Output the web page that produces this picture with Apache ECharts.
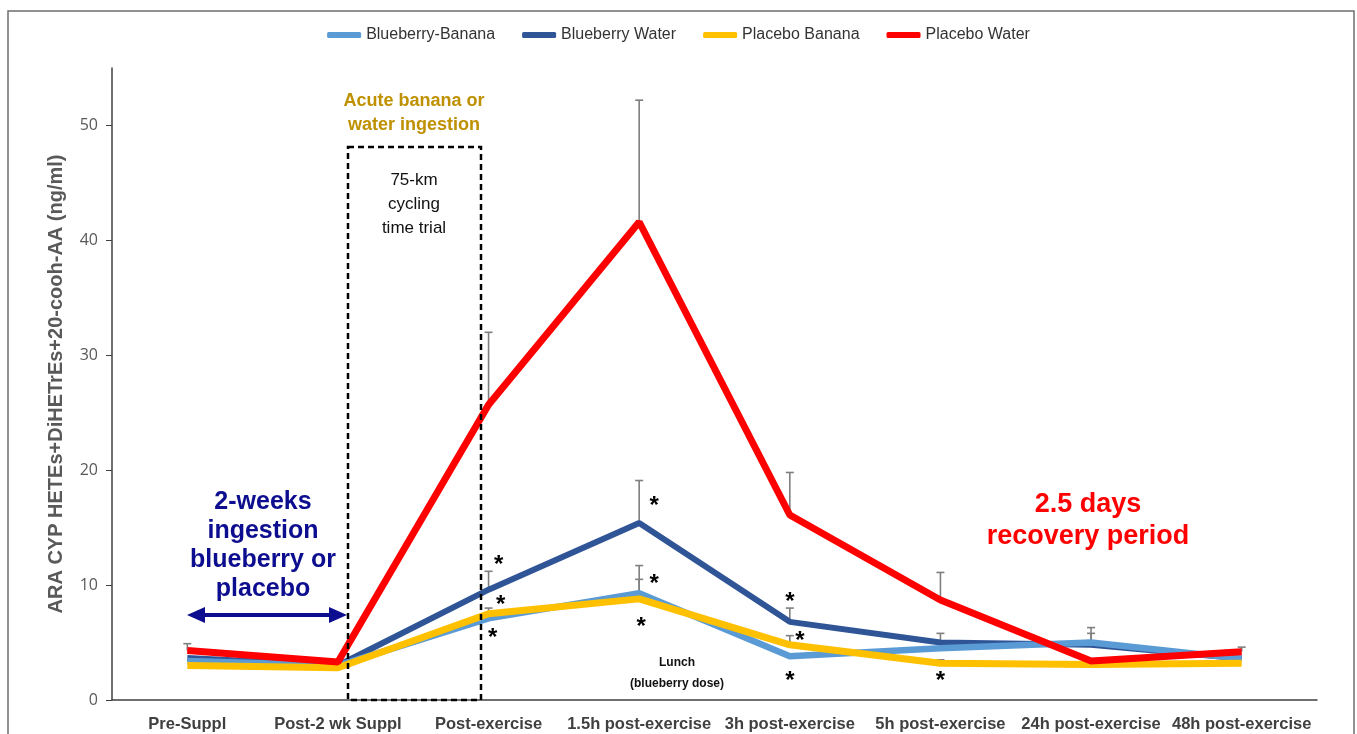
<!DOCTYPE html>
<html>
<head>
    <meta charset="utf-8">
    <title>ARA CYP chart</title>
    <script src="https://cdn.jsdelivr.net/npm/echarts@6/dist/echarts.min.js"></script>
    <style>
        html, body { margin: 0; padding: 0; background: #fff; }
        #main { width: 1357px; height: 734px; }
    </style>
</head>
<body>
<div id="main"></div>
<script type="text/javascript">
// categories and values
var categories = ['Pre-Suppl', 'Post-2 wk Suppl', 'Post-exercise', '1.5h post-exercise',
    '3h post-exercise', '5h post-exercise', '24h post-exercise', '48h post-exercise'];

var bbBanana = [3.4, 3.0, 7.1, 9.3, 3.8, 4.5, 5.0, 3.6];
var bbWater  = [3.65, 3.0, 9.6, 15.4, 6.8, 5.0, 4.8, 3.6];
var pbBanana = [3.0, 2.8, 7.5, 8.8, 4.8, 3.2, 3.1, 3.2];
var pbWater  = [4.3, 3.3, 25.7, 41.6, 16.1, 8.7, 3.4, 4.2];

// upper end of each error bar (null = no bar visible)
var bbBananaErr = [null, null, null, 11.7, null, null, 6.3, null];
var bbWaterErr  = [null, null, 11.2, 19.1, 8.0, 5.8, 5.8, null];
var pbBananaErr = [null, null, 8.0, 10.5, 5.6, 3.5, null, null];
var pbWaterErr  = [4.9, null, 32.0, 52.2, 19.8, 11.1, null, 4.6];

// significance stars: [category index, value, x shift in px]
var stars = [[2, 12.2, 10], [2, 8.8, 12], [2, 5.9, 4],
             [3, 17.4, 15], [3, 10.6, 15], [3, 6.8, 2],
             [4, 9.0, 0], [4, 5.6, 10], [4, 2.1, 0],
             [5, 2.1, 0]];

var yTicks = [0, 10, 20, 30, 40, 50];

// build error bar rows [idx, base, top]
var errRows = [];
function addErr(vals, tops) {
    for (var i = 0; i < tops.length; i++) {
        if (tops[i] != null) errRows.push([i, vals[i], tops[i]]);
    }
}
addErr(bbBanana, bbBananaErr);
addErr(bbWater, bbWaterErr);
addErr(pbBanana, pbBananaErr);
addErr(pbWater, pbWaterErr);

var myChart = echarts.init(document.getElementById('main'));

var axisFont = 'Liberation Sans, Arial, sans-serif';

function lineSeries(name, data, color, width) {
    return {
        name: name,
        type: 'line',
        data: data,
        symbol: 'none',
        lineStyle: { color: color, width: width },
        itemStyle: { color: color }
    };
}

var option = {
    animation: false,
    backgroundColor: '#fff',
    legend: {
        top: 22,
        left: 'center',
        itemGap: 27,
        itemWidth: 34,
        itemHeight: 6,
        icon: 'roundRect',
        data: ['Blueberry-Banana', 'Blueberry Water', 'Placebo Banana', 'Placebo Water'],
        textStyle: { fontFamily: axisFont, fontSize: 16, color: '#333' }
    },
    grid: { left: 112, right: 40, top: 68, bottom: 34 },
    xAxis: {
        type: 'category',
        data: categories,
        boundaryGap: true,
        axisLine: { lineStyle: { color: '#404040', width: 1.5 } },
        axisTick: { inside: true, length: 6, lineStyle: { color: '#404040' } },
        axisLabel: { interval: 0, hideOverlap: false, margin: 16, fontFamily: axisFont, fontWeight: 'bold', fontSize: 16.5, color: '#404040' }
    },
    yAxis: {
        type: 'value',
        min: 0,
        max: 55,
        interval: 10,
        name: 'ARA CYP HETEs+DiHETrEs+20-cooh-AA (ng/ml)',
        nameLocation: 'middle',
        nameGap: 46,
        nameTextStyle: { fontFamily: axisFont, fontWeight: 'bold', fontSize: 20, color: '#595959' },
        splitLine: { show: false },
        axisLine: { show: true, lineStyle: { color: '#404040', width: 1.5 } },
        axisTick: { show: true, length: 6, customValues: yTicks, lineStyle: { color: '#404040' } },
        axisLabel: { margin: 14, customValues: yTicks, fontFamily: 'Open Sans, sans-serif', fontSize: 16, color: '#595959' }
    },
    series: [
        {
            type: 'custom',
            name: 'err',
            data: errRows,
            z: 1,
            renderItem: function (params, api) {
                var p0 = api.coord([api.value(0), api.value(1)]);
                var p1 = api.coord([api.value(0), api.value(2)]);
                var lc = { stroke: '#7f7f7f', lineWidth: 1.6 };
                return {
                    type: 'group',
                    children: [
                        { type: 'line', shape: { x1: p0[0], y1: p0[1], x2: p1[0], y2: p1[1] }, style: lc },
                        { type: 'line', shape: { x1: p1[0] - 4, y1: p1[1], x2: p1[0] + 4, y2: p1[1] }, style: lc }
                    ]
                };
            }
        },
        lineSeries('Blueberry Water', bbWater, '#2F5597', 6),
        lineSeries('Blueberry-Banana', bbBanana, '#5B9BD5', 6.5),
        lineSeries('Placebo Banana', pbBanana, '#FFC000', 7),
        lineSeries('Placebo Water', pbWater, '#FF0000', 7),
        {
            type: 'custom',
            name: 'stars',
            data: stars,
            z: 5,
            renderItem: function (params, api) {
                var p = api.coord([api.value(0), api.value(1)]);
                return {
                    type: 'text',
                    x: p[0] + api.value(2),
                    y: p[1] + 6,
                    style: {
                        text: '*',
                        fontSize: 24,
                        fontWeight: 'bold',
                        fontFamily: 'Liberation Sans, Arial, sans-serif',
                        fill: '#000',
                        align: 'center',
                        verticalAlign: 'middle'
                    }
                };
            }
        }
    ],
    graphic: [
        // outer frame
        { type: 'rect', shape: { x: 8, y: 11, width: 1346, height: 740 }, style: { fill: null, stroke: '#6e6e6e', lineWidth: 1.5 }, silent: true },
        // exercise box
        { type: 'rect', shape: { x: 348, y: 147, width: 133, height: 553 }, style: { fill: null, stroke: '#000', lineWidth: 2.5, lineDash: [6, 4] }, z: 10, silent: true },
        { type: 'text', x: 414, y: 113, style: { text: 'Acute banana or\nwater ingestion', fontSize: 18, lineHeight: 24, fontWeight: 'bold', fontFamily: 'Liberation Sans, Arial, sans-serif', fill: '#BF9000', align: 'center', verticalAlign: 'middle' } },
        { type: 'text', x: 414, y: 204, style: { text: '75-km\ncycling\ntime trial', fontSize: 17, lineHeight: 24, fontFamily: 'Liberation Sans, Arial, sans-serif', fill: '#111', align: 'center', verticalAlign: 'middle' } },
        { type: 'text', x: 263, y: 546, style: { text: '2-weeks\ningestion\nblueberry or\nplacebo', fontSize: 25, lineHeight: 29, fontWeight: 'bold', fontFamily: 'Liberation Sans, Arial, sans-serif', fill: '#0D0D8F', align: 'center', verticalAlign: 'middle' } },
        { type: 'text', x: 1088, y: 521, style: { text: '2.5 days\nrecovery period', fontSize: 27, lineHeight: 32, fontWeight: 'bold', fontFamily: 'Liberation Sans, Arial, sans-serif', fill: '#FF0000', align: 'center', verticalAlign: 'middle' } },
        { type: 'text', x: 677, y: 673, style: { text: 'Lunch\n(blueberry dose)', fontSize: 12, lineHeight: 21, fontWeight: 'bold', fontFamily: 'Liberation Sans, Arial, sans-serif', fill: '#111', align: 'center', verticalAlign: 'middle' } },
        // double arrow
        { type: 'line', shape: { x1: 200, y1: 615, x2: 334, y2: 615 }, style: { stroke: '#0D0D8F', lineWidth: 4 } },
        { type: 'polygon', shape: { points: [[187, 615], [205, 607], [205, 623]] }, style: { fill: '#0D0D8F' } },
        { type: 'polygon', shape: { points: [[347, 615], [329, 607], [329, 623]] }, style: { fill: '#0D0D8F' } }
    ]
};

myChart.setOption(option);
</script>
</body>
</html>
